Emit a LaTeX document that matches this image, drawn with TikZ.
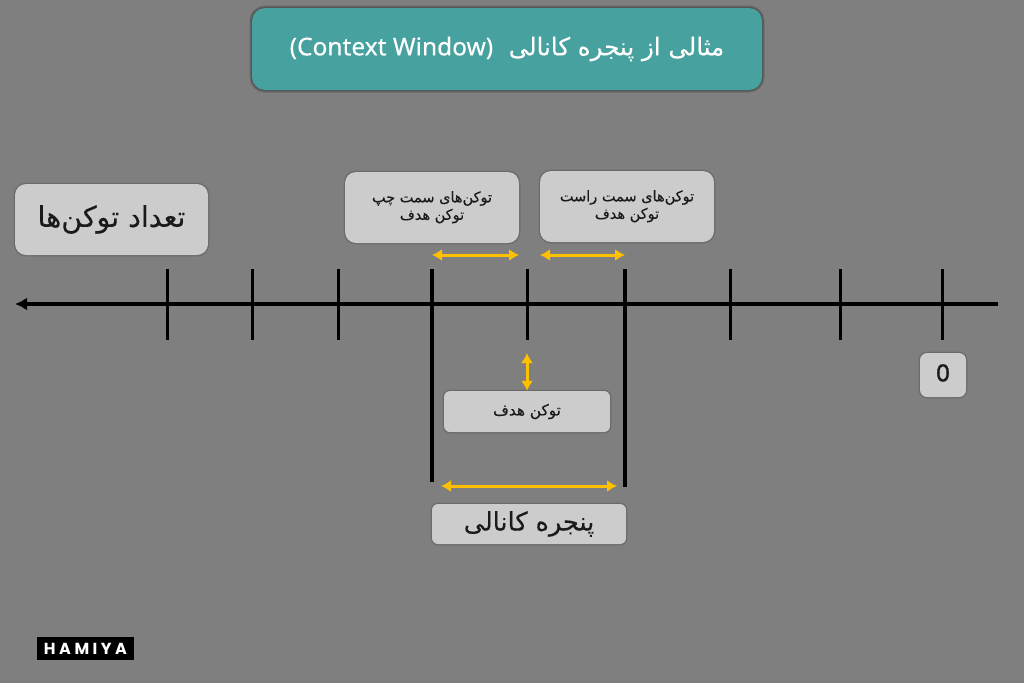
\documentclass[tikz,border=0pt]{standalone}
\usepackage{fontspec}
\usetikzlibrary{arrows.meta}
\TeXXeTstate=1
\newfontfamily\arabicfont[Script=Arabic,FakeBold=0.25]{DejaVu Sans}
\newfontfamily\latinfont[FakeBold=0.25]{Noto Sans}
\newfontfamily\zerofont[FakeBold=0.8]{DejaVu Sans}
\newfontfamily\logofont[LetterSpace=22]{Poppins}
\definecolor{bg}{HTML}{7F7F7F}
\definecolor{boxgray}{HTML}{CCCCCC}
\definecolor{teal}{HTML}{46A19F}
\definecolor{amber}{HTML}{FFC000}
\definecolor{ink}{HTML}{1A1A1A}
\tikzset{
  panel/.style={rounded corners=#1,inner sep=0pt,align=center,text=ink,
    fill=boxgray,preaction={draw=black,opacity=.10,line width=3pt},
    preaction={draw=black,opacity=.10,line width=1.5pt}},
  panel/.default=11pt,
  tick/.style={line width=3pt,black},
  bigtick/.style={line width=4pt,black},
  axisline/.style={line width=4pt,black,-{Latex[length=12pt,width=13pt]}},
  span/.style={line width=3pt,amber,{Latex[length=10pt,width=12pt]}-{Latex[length=10pt,width=12pt]}},
}
\begin{document}
\begin{tikzpicture}[x=1pt,y=-1pt]
\useasboundingbox (0,0) rectangle (1024,683);
\fill[bg] (0,0) rectangle (1024,683);

% axis
\coordinate (axisR) at (998,304);
\coordinate (axisL) at (15,304);
\draw[axisline] (axisR) -- (axisL);

% ticks
\foreach \n/\x in {a/167,b/252,c/338,e/527,g/730,h/840,i/942}{
  \coordinate (\n top) at (\x,269);
  \coordinate (\n bot) at (\x,340);
  \draw[tick] (\n top) -- (\n bot);
}
\coordinate (dtop) at (432,269);
\coordinate (dbot) at (432,482);
\coordinate (ftop) at (625,269);
\coordinate (fbot) at (625,487);
\draw[bigtick] (dtop) -- (dbot);
\draw[bigtick] (ftop) -- (fbot);

% title
\node[panel=13pt,fill=teal,minimum width=510pt,minimum height=82pt,text=white,
  font=\arabicfont\fontsize{24.5}{28}\selectfont,
  preaction={draw=black,opacity=.18,line width=5pt}] (title) at (507,49)
  {\raisebox{-1pt}{{\latinfont (Context Window)}\ \ \beginR مثالی از پنجره کانالی\endR}};

% labels
\node[panel,minimum width=193pt,minimum height=71pt,font=\arabicfont\fontsize{28.5}{32}\selectfont] (count) at (111.5,219.5)
  {\raisebox{-2pt}{\beginR تعداد توکن‌ها\endR}};
\node[panel,minimum width=174pt,minimum height=71pt,font=\arabicfont\fontsize{14.5}{17.5}\selectfont] (left) at (432,207.5)
  {\raisebox{-1pt}{\begin{tabular}{@{}c@{}}\beginR توکن‌های سمت چپ\endR\\\beginR توکن هدف\endR\end{tabular}}};
\node[panel,minimum width=174pt,minimum height=71pt,font=\arabicfont\fontsize{14.5}{17.5}\selectfont] (right) at (627,206.5)
  {\raisebox{-1pt}{\begin{tabular}{@{}c@{}}\beginR توکن‌های سمت راست\endR\\\beginR توکن هدف\endR\end{tabular}}};
\node[panel=6pt,minimum width=166pt,minimum height=41pt,font=\arabicfont\fontsize{15.3}{18}\selectfont] (target) at (527,411.5)
  {\beginR توکن هدف\endR};
\node[panel=6pt,minimum width=194pt,minimum height=40pt,font=\arabicfont\fontsize{25.5}{29}\selectfont] (window) at (529,524)
  {\beginR پنجره کانالی\endR};
\node[panel=7pt,minimum width=46pt,minimum height=44pt,font=\zerofont\fontsize{23}{26}\selectfont] (zero) at (943,375)
  {\raisebox{4.5pt}{0}};

% logo
\node[fill=black,text=white,minimum width=97pt,minimum height=23pt,inner sep=0pt,
  font=\logofont\bfseries\fontsize{16}{18}\selectfont] (logo) at (85.5,648.5) {HAMIYA};

% amber arrows
\coordinate (s1a) at (432,255);
\coordinate (s1b) at (519,255);
\coordinate (s2a) at (540,255);
\coordinate (s2b) at (625,255);
\coordinate (s3a) at (441,486);
\coordinate (s3b) at (617,486);
\coordinate (s4a) at (527,353);
\draw[span] (s1a) -- (s1b);
\draw[span] (s2a) -- (s2b);
\draw[span] (s3a) -- (s3b);
\draw[span] (s4a) -- (target.north);
\end{tikzpicture}
\end{document}
